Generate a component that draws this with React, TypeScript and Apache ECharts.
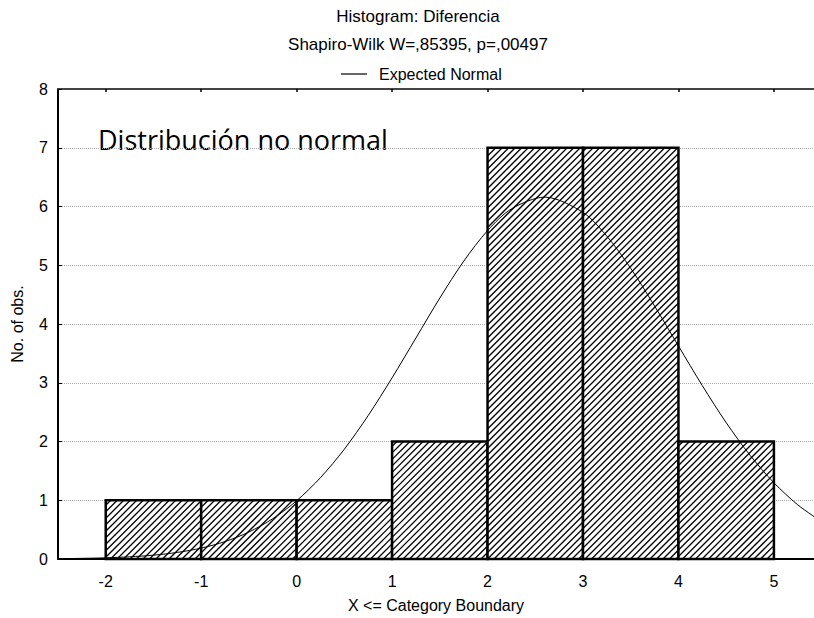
import React, { useEffect, useRef } from "react";
import * as echarts from "echarts";

// Histogram bins: [lower boundary, upper boundary, count]
const binLower = [-2, -1, 0, 1, 2, 3, 4];
const binUpper = [-1, 0, 1, 2, 3, 4, 5];
const binCounts = [1, 1, 1, 2, 7, 7, 2];

// Expected normal curve
const curveX = [-2.5, -2.25, -2, -1.75, -1.5, -1.25, -1, -0.75, -0.5, -0.25, 0, 0.25, 0.5, 0.75, 1, 1.25, 1.5, 1.75, 2, 2.25, 2.6, 3, 3.25, 3.5, 3.75, 4, 4.25, 4.5, 4.75, 5, 5.25, 5.5];
const curveY = [0.005, 0.011, 0.02, 0.037, 0.065, 0.112, 0.185, 0.297, 0.459, 0.686, 0.991, 1.385, 1.87, 2.443, 3.084, 3.763, 4.442, 5.068, 5.589, 5.959, 6.16, 5.899, 5.494, 4.948, 4.306, 3.626, 2.951, 2.321, 1.765, 1.298, 0.922, 0.634];

const xTicks = [-2, -1, 0, 1, 2, 3, 4, 5];
const titleLines = ["Histogram: Diferencia", "Shapiro-Wilk W=,85395, p=,00497"];
const legendName = "Expected Normal";
const annotation = "Distribución no normal";
const xName = "X <= Category Boundary";
const yName = "No. of obs.";

const FONT = "'Liberation Sans', Arial, sans-serif";

export default function App() {
  const ref = useRef<HTMLDivElement>(null);
  useEffect(() => {
    if (!ref.current) return;
    const chart = echarts.init(ref.current, null, { renderer: "svg" });
    const HATCH = 6.5;
    const option: any = {
      animation: false,
      backgroundColor: "#fff",
      textStyle: { fontFamily: FONT },
      grid: { left: 58, right: 0, top: 89, bottom: 59 },
      legend: {
        data: [{ name: legendName, icon: "rect" }],
        left: 336,
        top: 61,
        itemWidth: 26,
        itemHeight: 1.2,
        textStyle: { fontFamily: FONT, fontSize: 16, color: "#000", padding: [0, 0, 0, 7] },
      },
      xAxis: [
        {
          type: "value",
          min: -2.5,
          max: 5.42,
          position: "bottom",
          axisLine: { show: true, onZero: false, lineStyle: { color: "#000", width: 2 } },
          axisTick: { show: false },
          axisLabel: {
            customValues: xTicks,
            color: "#000",
            fontSize: 16,
            fontFamily: FONT,
            margin: 14,
          },
          splitLine: { show: false },
        },
        {
          type: "value",
          min: -2.5,
          max: 5.42,
          position: "top",
          axisLine: { show: true, onZero: false, lineStyle: { color: "#444", width: 2 } },
          axisTick: { show: true, inside: true, length: 3, customValues: xTicks, lineStyle: { color: "#000", width: 1.5 } },
          axisLabel: { show: false },
          splitLine: { show: false },
        },
      ],
      yAxis: {
        type: "value",
        min: 0,
        max: 8,
        interval: 1,
        axisLine: { show: true, onZero: false, lineStyle: { color: "#000", width: 2 } },
        axisTick: { show: true, inside: true, length: 4, lineStyle: { color: "#000", width: 1 } },
        axisLabel: { color: "#000", fontSize: 16, fontFamily: FONT, margin: 10 },
        splitLine: { show: true, lineStyle: { color: "#aaa", type: "dotted", width: 1 } },
      },
      graphic: [
        {
          type: "text",
          style: {
            x: 418, y: 16, text: titleLines[0], fill: "#000",
            font: `17px ${FONT}`, textAlign: "center", textVerticalAlign: "middle",
          },
        },
        {
          type: "text",
          style: {
            x: 418, y: 44, text: titleLines[1], fill: "#000",
            font: `17px ${FONT}`, textAlign: "center", textVerticalAlign: "middle",
          },
        },
        {
          type: "text",
          style: {
            x: 98, y: 139, text: annotation, fill: "#000",
            font: `27px 'Open Sans', sans-serif`, textAlign: "left", textVerticalAlign: "middle",
          },
        },
        {
          type: "text",
          style: {
            x: 436, y: 605, text: xName, fill: "#000",
            font: `16px ${FONT}`, textAlign: "center", textVerticalAlign: "middle",
          },
        },
        {
          type: "text",
          x: 17,
          y: 324,
          rotation: Math.PI / 2,
          style: {
            x: 0, y: 0, text: yName, fill: "#000",
            font: `16px ${FONT}`, textAlign: "center", textVerticalAlign: "middle",
          },
        },
      ],
      series: [
        {
          type: "custom",
          name: "hist",
          xAxisIndex: 0,
          yAxisIndex: 0,
          encode: { x: [0, 1], y: 2 },
          data: binLower.map((lo, i) => [lo, binUpper[i], binCounts[i]]),
          renderItem: (params: any, api: any) => {
            const lo = api.value(0);
            const hi = api.value(1);
            const c = api.value(2);
            const p0 = api.coord([lo, c]);
            const p1 = api.coord([hi, 0]);
            const x0 = p0[0], y0 = p0[1], x1 = p1[0], y1 = p1[1];
            const children: any[] = [
              { type: "rect", shape: { x: x0, y: y0, width: x1 - x0, height: y1 - y0 }, style: { fill: "#fff" } },
            ];
            let k = Math.ceil((x0 + y0) / HATCH) * HATCH;
            for (; k <= x1 + y1; k += HATCH) {
              const xa = Math.max(x0, k - y1);
              const xb = Math.min(x1, k - y0);
              if (xb > xa) {
                children.push({
                  type: "line",
                  shape: { x1: xa, y1: k - xa, x2: xb, y2: k - xb },
                  style: { stroke: "#000", lineWidth: 1.3 },
                });
              }
            }
            children.push({
              type: "rect",
              shape: { x: x0, y: y0, width: x1 - x0, height: y1 - y0 },
              style: { fill: "none", stroke: "#000", lineWidth: 2.5 },
            });
            return { type: "group", children };
          },
          z: 2,
        },
        {
          type: "line",
          name: legendName,
          xAxisIndex: 0,
          yAxisIndex: 0,
          data: curveX.map((x, i) => [x, curveY[i]]),
          smooth: 0.3,
          showSymbol: false,
          symbol: "none",
          lineStyle: { color: "#000", width: 1 },
          itemStyle: { color: "#000" },
          clip: true,
          z: 5,
        },
      ],
    };
    chart.setOption(option);
    return () => chart.dispose();
  }, []);
  return <div ref={ref} style={{ width: 814, height: 618, position: "absolute", left: 0, top: 0 }} />;
}
